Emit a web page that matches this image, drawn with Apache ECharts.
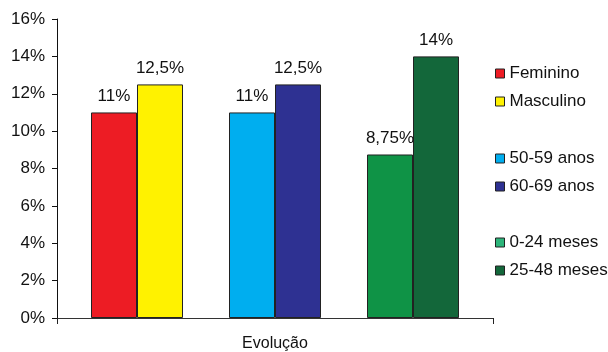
<!DOCTYPE html>
<html>
<head>
<meta charset="utf-8">
<script src="https://cdn.jsdelivr.net/npm/echarts@6/dist/echarts.min.js"></script>
<style>
  html, body { margin: 0; padding: 0; background: #fff; }
  #main { width: 608px; height: 352px; }
</style>
</head>
<body>
<div id="main"></div>
<script>
// dados
const categories = ['Evolução']
const seriesNames = ['Feminino', 'Masculino', '', '50-59 anos', '60-69 anos', '', '0-24 meses', '25-48 meses']
const seriesValues = [11, 12.5, null, 11, 12.5, null, 8.75, 14]
const seriesColors = ['#ED1C24', '#FFF200', 'transparent', '#00AEEF', '#2E3192', 'transparent', '#0F9346', '#13673A']
const yTicks = [0, 2, 4, 6, 8, 10, 12, 14, 16]

const font = 'Liberation Sans, Arial, sans-serif'

const series = seriesNames.map(function (name, i) {
  const blank = seriesValues[i] === null
  return {
    name: blank ? 'vazio' + i : name,
    type: 'bar',
    barWidth: 46,
    barGap: 0,
    silent: blank,
    data: [blank ? '-' : seriesValues[i]],
    itemStyle: {
      color: seriesColors[i],
      borderColor: blank ? 'transparent' : '#222',
      borderWidth: 1
    },
    label: {
      show: !blank,
      position: 'top',
      distance: 8,
      color: '#111',
      fontSize: 17,
      fontFamily: font,
      formatter: function (p) {
        return String(p.value).replace('.', ',') + '%'
      }
    }
  }
})

function legendBlock (names, top, colors) {
  return {
    orient: 'vertical',
    left: 490,
    top: top,
    itemWidth: 9,
    itemHeight: 9,
    itemGap: 11,
    icon: 'rect',
    data: names.map(function (n, k) {
      return { name: n, itemStyle: { color: colors[k], borderColor: '#222', borderWidth: 1 } }
    }),
    textStyle: { fontSize: 17, fontFamily: font, color: '#111' }
  }
}

const option = {
  animation: false,
  backgroundColor: '#fff',
  grid: { left: 57, right: 115, top: 19, bottom: 34 },
  legend: [
    legendBlock(['Feminino', 'Masculino'], 60, ['#ED1C24', '#FFF200']),
    legendBlock(['50-59 anos', '60-69 anos'], 145, ['#00AEEF', '#2E3192']),
    legendBlock(['0-24 meses', '25-48 meses'], 229, ['#2DB57A', '#13673A'])
  ],
  xAxis: {
    type: 'category',
    data: categories,
    axisLine: { lineStyle: { color: '#333', width: 1 } },
    axisTick: { show: true, length: 6, lineStyle: { color: '#222' } },
    axisLabel: { margin: 18, fontSize: 16, fontFamily: font, color: '#111' }
  },
  yAxis: {
    type: 'value',
    min: yTicks[0],
    max: yTicks[yTicks.length - 1],
    interval: 2,
    splitLine: { show: false },
    axisLine: { show: true, lineStyle: { color: '#111', width: 1 } },
    axisTick: { show: true, length: 5, lineStyle: { color: '#111' } },
    axisLabel: { margin: 12, fontSize: 17, fontFamily: font, color: '#111', formatter: '{value}%' }
  },
  series: series
}

const myChart = echarts.init(document.getElementById('main'))
myChart.setOption(option)
</script>
</body>
</html>
